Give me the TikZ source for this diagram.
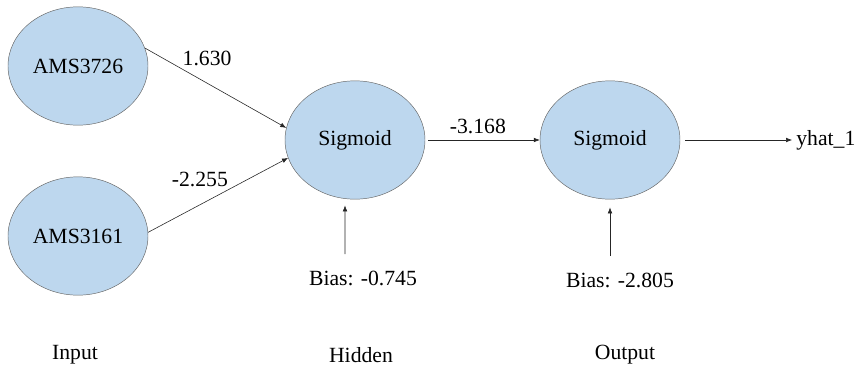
\documentclass[tikz,border=0pt]{standalone}
\usepackage{fontspec}
\setmainfont{LiberationSerif}[Extension=.ttf,UprightFont=*-Regular,BoldFont=*-Bold]
\usetikzlibrary{shapes.geometric,arrows.meta}
\definecolor{cellblue}{RGB}{189,215,238}
\tikzstyle{unit}=[ellipse,draw=black!60,fill=cellblue,minimum width=4.2cm,minimum height=3.55cm,inner sep=0pt]
\tikzstyle{lbl}=[inner sep=1pt]
\tikzstyle{link}=[draw=black!85,line width=0.5pt,-{Latex[length=1.8mm,width=1.4mm]}]

\begin{document}
\begin{tikzpicture}[font=\fontsize{18.5}{22}\selectfont]
\useasboundingbox (0,0) rectangle (25.71,11.13);
\node[unit] (in1) at (2.34,9.15) {AMS3726};
\node[unit] (in2) at (2.34,4.05) {AMS3161};
\node[unit] (hid) at (10.65,6.93) {Sigmoid};
\node[unit] (out) at (18.3,6.93) {Sigmoid};
\node[lbl,anchor=west] (yhat) at (23.85,6.93) {yhat\_1};
\node[lbl] (bias1) at (10.89,2.79) {Bias: -0.745};
\node[lbl] (bias2) at (18.6,2.73) {Bias: -2.805};
\node[lbl] (lin) at (2.25,0.48) {Input};
\node[lbl] (lhid) at (10.83,0.48) {Hidden};
\node[lbl] (lout) at (18.75,0.48) {Output};
\draw[link] (in1.15)--(hid.170) node[lbl,pos=0.44,above=0.49cm]{1.630};
\draw[link] (in2.3)--(hid.195) node[lbl,pos=0.37,above=0.49cm]{-2.255};
\draw[link,shorten <=0.09cm] (hid.east)--(out.west) node[lbl,pos=0.46,above=0.14cm]{-3.168};
\draw[link,shorten <=0.15cm,shorten >=0.09cm] (out.east)--(yhat.west);
\draw[link,shorten <=0.45cm,shorten >=0.18cm] ([xshift=-0.54cm]bias1.north)--([xshift=-0.3cm]hid.south);
\draw[link,shorten <=0.45cm,shorten >=0.24cm] ([xshift=-0.3cm]bias2.north)--(out.south);
\end{tikzpicture}
\end{document}
